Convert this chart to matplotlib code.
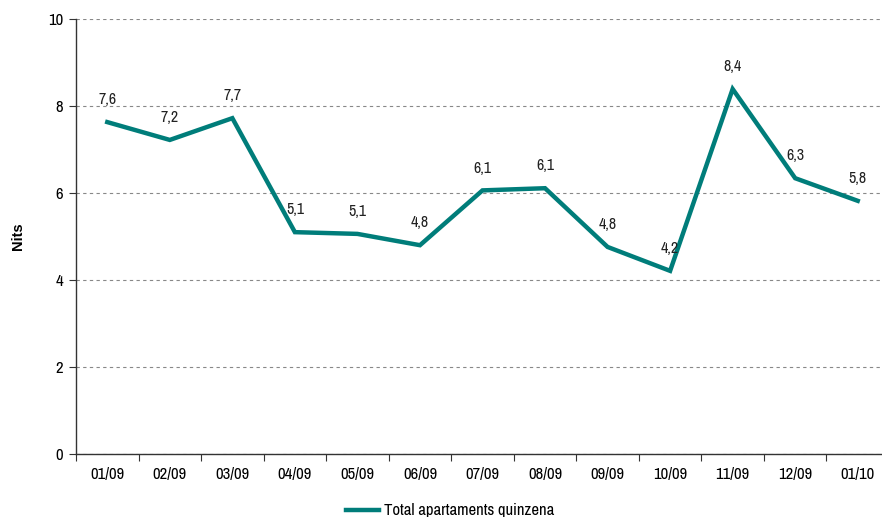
import matplotlib
matplotlib.use("Agg")
from matplotlib import pyplot as plt
from matplotlib import font_manager
from matplotlib.ticker import FixedLocator

months = ["01/09", "02/09", "03/09", "04/09", "05/09", "06/09", "07/09",
          "08/09", "09/09", "10/09", "11/09", "12/09", "01/10"]
nits = [7.63, 7.22, 7.72, 5.10, 5.06, 4.80, 6.06, 6.11, 4.76, 4.21, 8.39, 6.34, 5.82]
series_name = "Total apartaments quinzena"

# look for a narrow face (the original uses Arial Narrow), else plain Liberation Sans
fonts = font_manager.fontManager.ttflist
narrow = None
for f in fonts:
    if 'Narrow' in f.name or 'Condensed' in f.name:
        narrow = f.name
        break
if narrow:
    plt.rcParams['font.family'] = [narrow, 'DejaVu Sans']
    fs, fs_lab = 12, 11.5
else:
    plt.rcParams['font.family'] = ['Liberation Sans', 'DejaVu Sans']
    fs, fs_lab = 10.5, 10.5

has_bold = any(f.name == narrow and f.weight in ('bold', 700, 600, 800) for f in fonts)
ylab_family = [narrow] if (narrow and has_bold) else ['Liberation Sans', 'DejaVu Sans']

W, H = 882, 517
fig = plt.figure(figsize=(W / 100, H / 100), dpi=100)
ax = fig.add_axes([76 / W, 1 - 454 / H, (889 - 76) / W, (454 - 19) / H])

x = list(range(len(months)))
line, = ax.plot(x, nits, color='#007d7a', lw=3.2, solid_joinstyle='miter', label=series_name)

for xi, v in zip(x, nits):
    ax.annotate(f"{v:.1f}".replace('.', ','), (xi, v), xytext=(0, 16), textcoords='offset points',
                ha='center', va='center', fontsize=fs_lab, color='#222222')

ax.set_xlim(-0.5, len(months) - 0.5)
ax.set_ylim(0, 10)
ax.set_yticks([0, 2, 4, 6, 8, 10])
ax.yaxis.grid(True, ls=(0, (3, 3)), color='#888888', lw=0.8)
ax.set_axisbelow(True)

# ticks at the category borders, labels in the middle
ax.xaxis.set_major_locator(FixedLocator([i - 0.5 for i in range(len(months) + 1)]))
ax.xaxis.set_major_formatter(plt.NullFormatter())
ax.xaxis.set_minor_locator(FixedLocator(x))
ax.set_xticklabels(months, minor=True)
ax.tick_params(axis='x', which='major', direction='out', length=5, color='#333333')
ax.tick_params(axis='x', which='minor', length=0, pad=9, labelsize=fs)
ax.tick_params(axis='y', direction='out', length=5, color='#333333', labelsize=fs, pad=4)

for s in ['top', 'right']:
    ax.spines[s].set_visible(False)
for s in ['left', 'bottom']:
    ax.spines[s].set_color('#333333')
    ax.spines[s].set_linewidth(1.0)

ax.set_ylabel("Nits", fontsize=fs if has_bold else 10.5, fontweight='bold', family=ylab_family)
ax.yaxis.set_label_coords((25 - 76) / (889 - 76), 0.5)

fig.legend(handles=[line], loc='center left', bbox_to_anchor=(346 / W, 1 - 511 / H), frameon=False,
           fontsize=fs, handlelength=2.0, handletextpad=0.3, borderaxespad=0, borderpad=0)

plt.savefig("out.png", dpi=100)
